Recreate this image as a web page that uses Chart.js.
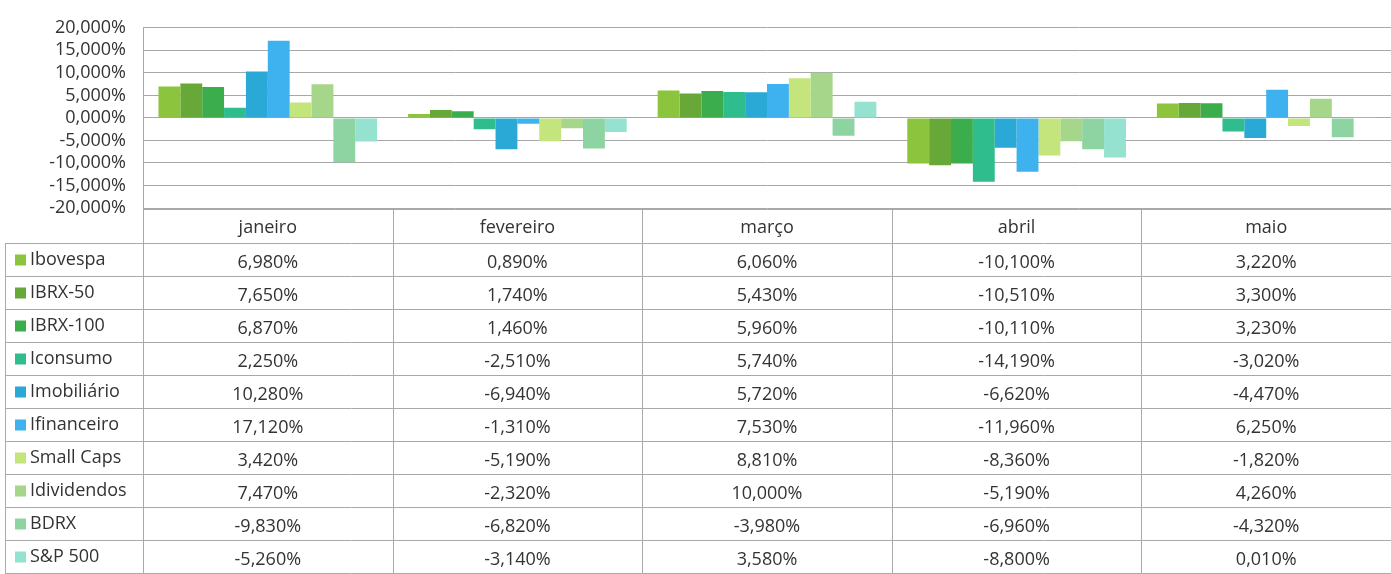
<!DOCTYPE html>
<html>
<head>
<meta charset="utf-8">
<script src="https://cdn.jsdelivr.net/npm/chart.js@4"></script>
<style>
  html, body { margin: 0; padding: 0; background: #fff; }
  #wrap { position: relative; width: 1391px; height: 574px; }
</style>
</head>
<body>
<div id="wrap"><canvas id="myChart" width="1391" height="574"></canvas></div>
<script>
var months = ["janeiro", "fevereiro", "março", "abril", "maio"];
var seriesNames = ["Ibovespa", "IBRX-50", "IBRX-100", "Iconsumo", "Imobiliário",
  "Ifinanceiro", "Small Caps", "Idividendos", "BDRX", "S&P 500"];

var ibovespa    = [6.98, 0.89, 6.06, -10.10, 3.22];
var ibrx50      = [7.65, 1.74, 5.43, -10.51, 3.30];
var ibrx100     = [6.87, 1.46, 5.96, -10.11, 3.23];
var iconsumo    = [2.25, -2.51, 5.74, -14.19, -3.02];
var imobiliario = [10.28, -6.94, 5.72, -6.62, -4.47];
var ifinanceiro = [17.12, -1.31, 7.53, -11.96, 6.25];
var smallCaps   = [3.42, -5.19, 8.81, -8.36, -1.82];
var idividendos = [7.47, -2.32, 10.00, -5.19, 4.26];
var bdrx        = [-9.83, -6.82, -3.98, -6.96, -4.32];
var sp500       = [-5.26, -3.14, 3.58, -8.80, 0.01];

var yTicks = [20, 15, 10, 5, 0, -5, -10, -15, -20];

var allValues = [ibovespa, ibrx50, ibrx100, iconsumo, imobiliario,
  ifinanceiro, smallCaps, idividendos, bdrx, sp500];
var barColors = ["#8cc43e", "#67a838", "#3cad4c", "#2fbd8e", "#2aa8d6",
  "#3db2ee", "#c4e47c", "#a5d68a", "#8ed3a2", "#94e2cf"];

function pct(v) {
  return v.toFixed(3).replace(".", ",") + "%";
}

var datasets = seriesNames.map(function (name, i) {
  return {
    label: name,
    data: allValues[i],
    backgroundColor: barColors[i],
    borderWidth: 0
  };
});

var FONT = "'Open Sans', 'Liberation Sans', sans-serif";
var headerTop = 209;
var rowTop = 243;
var rowH = 33;
var tableLeft = 5;

// draws the Excel-style data table under the plot
var dataTable = {
  id: "dataTable",
  afterDraw: function (chart) {
    var ctx = chart.ctx;
    var area = chart.chartArea;
    var x = chart.scales.x;
    var bottom = rowTop + rowH * seriesNames.length;
    ctx.save();
    ctx.strokeStyle = "#a9a9a9";
    ctx.lineWidth = 1;

    // vertical lines of the month columns
    for (var c = 0; c <= months.length; c++) {
      var vx = Math.round(area.left + (area.right - area.left) * c / months.length) + 0.5;
      ctx.beginPath();
      ctx.moveTo(vx, headerTop);
      ctx.lineTo(vx, bottom);
      ctx.stroke();
    }
    // header top line
    ctx.beginPath();
    ctx.moveTo(area.left, headerTop + 0.5);
    ctx.lineTo(area.right, headerTop + 0.5);
    ctx.stroke();
    // row lines
    for (var r = 0; r <= seriesNames.length; r++) {
      var hy = rowTop + r * rowH + 0.5;
      ctx.beginPath();
      ctx.moveTo(tableLeft, hy);
      ctx.lineTo(area.right, hy);
      ctx.stroke();
    }
    // legend column left edge
    ctx.beginPath();
    ctx.moveTo(tableLeft + 0.5, rowTop);
    ctx.lineTo(tableLeft + 0.5, bottom);
    ctx.stroke();

    ctx.fillStyle = "#333";
    ctx.font = "18px " + FONT;
    ctx.textAlign = "center";
    ctx.textBaseline = "middle";
    months.forEach(function (m, i) {
      ctx.fillText(m, x.getPixelForValue(i), (headerTop + rowTop) / 2 + 2);
    });

    seriesNames.forEach(function (name, r) {
      var cy = rowTop + r * rowH + rowH / 2;
      ctx.fillStyle = barColors[r];
      ctx.fillRect(tableLeft + 10, cy - 5, 11, 11);
      ctx.fillStyle = "#333";
      ctx.textAlign = "left";
      ctx.fillText(name, tableLeft + 25, cy);
      ctx.textAlign = "center";
      allValues[r].forEach(function (v, i) {
        ctx.fillText(pct(v), x.getPixelForValue(i), cy + 3);
      });
    });
    ctx.restore();
  }
};

new Chart("myChart", {
  type: "bar",
  data: {
    labels: months,
    datasets: datasets
  },
  options: {
    responsive: false,
    animation: false,
    layout: { padding: { top: 21, bottom: 366, left: 0, right: 0 } },
    plugins: {
      legend: { display: false },
      tooltip: { enabled: false }
    },
    datasets: {
      bar: { categoryPercentage: 0.876, barPercentage: 1 }
    },
    scales: {
      x: {
        display: false
      },
      y: {
        min: -20,
        max: 20,
        afterFit: function (scale) { scale.width = 143; },
        afterBuildTicks: function (scale) {
          scale.ticks = yTicks.map(function (v) { return { value: v }; });
        },
        grid: { color: "#a8a8a8", lineWidth: 1, drawTicks: false },
        border: { display: true, color: "#a8a8a8" },
        ticks: {
          autoSkip: false,
          padding: 17,
          color: "#333",
          font: { family: FONT, size: 18 },
          callback: function (v) { return pct(v); }
        }
      }
    }
  },
  plugins: [dataTable]
});
</script>
</body>
</html>
